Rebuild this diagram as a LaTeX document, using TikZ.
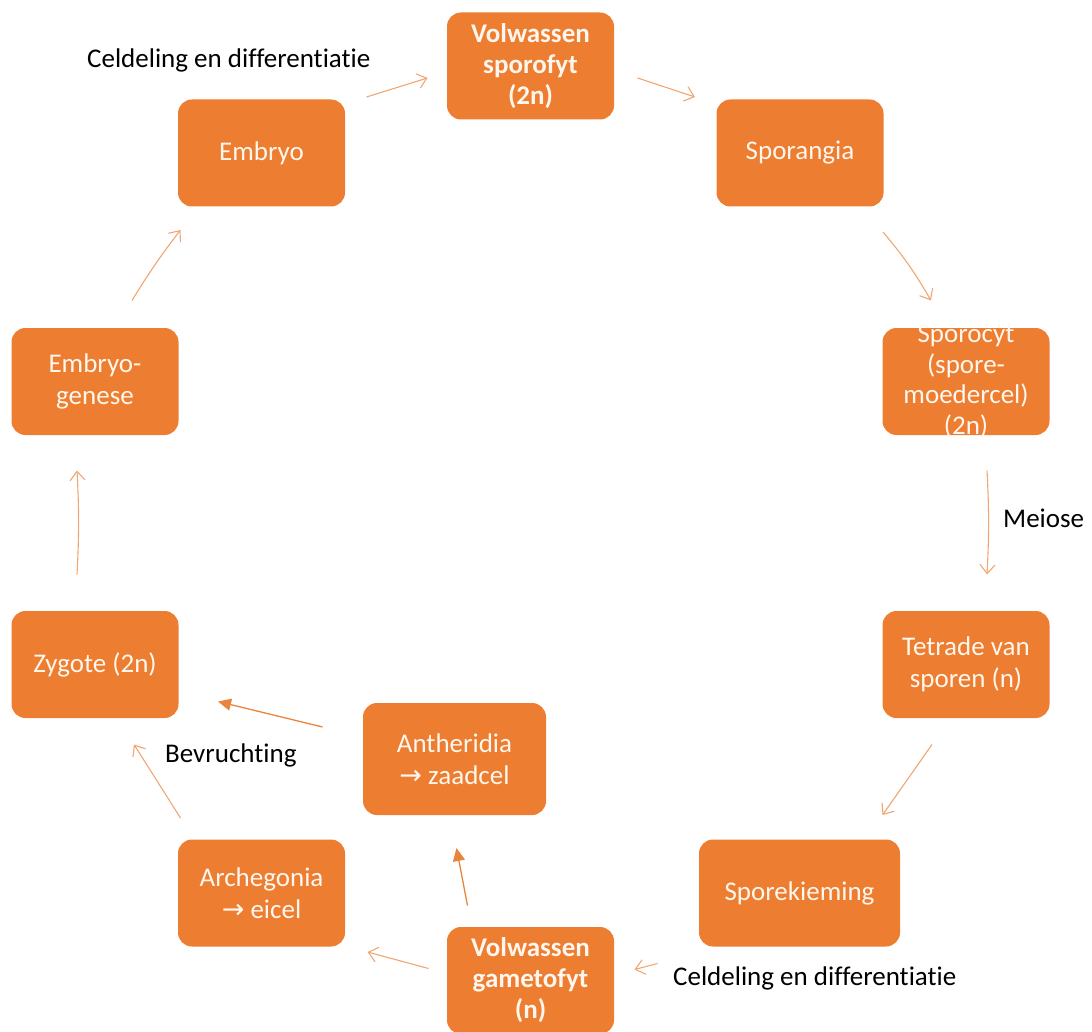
\documentclass[tikz,border=0pt]{standalone}
\usepackage{fontspec}
\setmainfont{Carlito}[Ligatures=NoCommon]
\newfontfamily\symbolfont{DejaVu Sans}
\usetikzlibrary{arrows.meta,calc}
\definecolor{boxorange}{HTML}{ED7D31}
\definecolor{boxtext}{HTML}{FFF7EE}
\definecolor{arrowline}{HTML}{F0A673}
\definecolor{arrowdark}{HTML}{E9843F}
\newcommand{\yields}{{\symbolfont\fontsize{27}{27}\selectfont →}}

\begin{document}
\begin{tikzpicture}[x=1pt,y=-1pt,
  stage/.style={fill=boxorange, rounded corners=14pt, minimum width=167pt,
    minimum height=107pt, inner sep=0pt, text=boxtext, align=center,
    font=\fontsize{27}{32}\selectfont},
  bigstage/.style={stage, font=\fontsize{27}{31}\selectfont\bfseries},
  caption/.style={font=\fontsize{27}{32}\selectfont, text=black, inner sep=0pt},
  arr/.style={draw=arrowline, line width=1.1pt, -{Straight Barb[length=9pt,width=15pt]}},
  darr/.style={draw=arrowdark, line width=1.3pt, -{Triangle[length=13pt,width=12pt]}}]
\useasboundingbox (0,0) rectangle (1092,1032);

% life-cycle stages
\node[bigstage] (sporofyt) at (530.5,66) {Volwassen\\sporofyt\\(2n)};
\node[stage] (sporangia) at (800,153) {Sporangia};
\node[stage, text height=0pt, text depth=0pt] (sporocyt) at (966,381.5) {};
\node[font=\fontsize{27}{30.5}\selectfont, text=boxtext, align=center, inner sep=0pt]
  (sporocyttext) at (sporocyt.center) {Sporocyt\\(spore-\\moedercel)\\(2n)};
\node[stage] (tetrade) at (966,664.5) {Tetrade van\\sporen (n)};
\node[stage, minimum width=201pt] (sporekieming) at (799.5,893) {Sporekieming};
\node[bigstage] (gametofyt) at (530.5,980.5) {Volwassen\\gametofyt\\(n)};
\node[stage] (archegonia) at (261.5,893) {Archegonia\\\yields{} eicel};
\node[stage, minimum width=183pt, minimum height=112pt] (antheridia) at (454.5,759) {Antheridia\\\yields{} zaadcel};
\node[stage] (zygote) at (95,664.5) {Zygote (2n)};
\node[stage] (embryogenese) at (95,381.5) {Embryo-\\genese};
\node[stage] (embryo) at (261.5,153) {Embryo};

% process labels
\node[caption, anchor=west] (deling1) at (87,60) {Celdeling en differentiatie};
\node[caption, anchor=west] (meiose) at (1003,518) {Meiose};
\node[caption, anchor=west] (bevruchting) at (165,755) {Bevruchting};
\node[caption, anchor=west] (deling2) at (673,978) {Celdeling en differentiatie};

% transitions
\draw[arr] ($(embryo)+(105,-56)$) -- ($(sporofyt)+(-103,12)$);
\draw[arr] ($(sporofyt)+(107,12)$) -- ($(sporangia)+(-105,-56)$);
\draw[arr] ($(sporangia)+(83,79)$) to[bend left=5] ($(sporocyt)+(-35,-81)$);
\draw[arr] ($(sporocyt)+(21,89)$) to[bend left=3] ($(tetrade)+(21,-90)$);
\draw[arr] ($(tetrade)+(-34,80)$) -- ($(sporekieming)+(83,-78)$);
\draw[arr] ($(gametofyt)+(127,-17)$) -- ($(gametofyt)+(104,-11)$);
\draw[arr] ($(gametofyt)+(-102,-12)$) -- ($(archegonia)+(106,59)$);
\draw[darr] ($(gametofyt)+(-63,-75)$) -- ($(antheridia)+(2,89)$);
\draw[darr] ($(antheridia)+(-132,-32)$) -- ($(zygote)+(123,37)$);
\draw[arr] ($(archegonia)+(-81,-75)$) -- ($(zygote)+(39,80)$);
\draw[arr] ($(zygote)+(-18,-90)$) to[bend right=3] ($(embryogenese)+(-18,89)$);
\draw[arr] ($(embryogenese)+(37,-81)$) to[bend left=3] ($(embryo)+(-81,77)$);
\end{tikzpicture}
\end{document}
